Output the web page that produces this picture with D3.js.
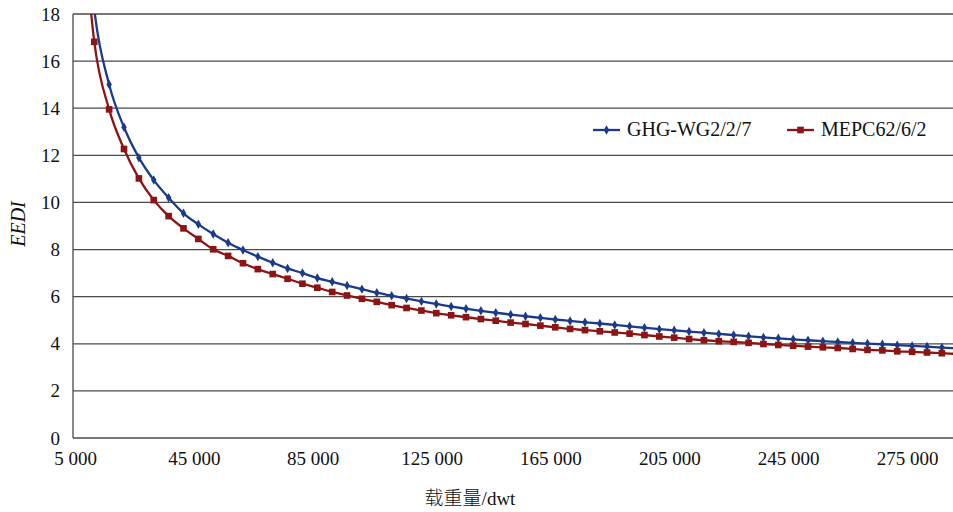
<!DOCTYPE html>
<html>
<head>
<meta charset="utf-8">
<script src="https://cdn.jsdelivr.net/npm/d3@7/dist/d3.min.js"></script>
<style>
  html, body { margin: 0; padding: 0; background: #fff; }
  svg { display: block; }
</style>
</head>
<body>
<svg id="chart" width="953" height="512"></svg>
<script>
// Deadweight categories (dwt), one point every 5 000 t
const dwt = d3.range(5000, 300001, 5000);

// EEDI reference lines for the two proposals
const ghgValues = [
  26.0, 18.2, 15.01, 13.19, 11.90, 10.95, 10.20, 9.54, 9.07, 8.66,
  8.29, 7.98, 7.70, 7.44, 7.20, 7.00, 6.79, 6.63, 6.47, 6.32,
  6.17, 6.04, 5.92, 5.80, 5.69, 5.58, 5.49, 5.40, 5.32, 5.24,
  5.17, 5.10, 5.03, 4.97, 4.91, 4.86, 4.80, 4.74, 4.68, 4.62,
  4.57, 4.52, 4.47, 4.42, 4.37, 4.32, 4.27, 4.23, 4.19, 4.15,
  4.11, 4.08, 4.04, 4.01, 3.98, 3.94, 3.91, 3.88, 3.84, 3.81
];
const mepcValues = [
  24.0, 16.82, 13.95, 12.27, 11.02, 10.10, 9.42, 8.90, 8.45, 8.01,
  7.73, 7.42, 7.17, 6.96, 6.76, 6.55, 6.38, 6.20, 6.05, 5.91,
  5.78, 5.64, 5.52, 5.41, 5.30, 5.21, 5.13, 5.05, 4.98, 4.90,
  4.84, 4.77, 4.70, 4.63, 4.58, 4.53, 4.48, 4.43, 4.37, 4.31,
  4.26, 4.20, 4.15, 4.11, 4.08, 4.04, 3.99, 3.95, 3.92, 3.88,
  3.85, 3.82, 3.78, 3.74, 3.72, 3.68, 3.66, 3.63, 3.60, 3.57
];

const seriesNames = ["GHG-WG2/2/7", "MEPC62/6/2"];
const xTickLabels = ["5 000", "45 000", "85 000", "125 000", "165 000", "205 000", "245 000", "275 000"];
const yTicks = [0, 2, 4, 6, 8, 10, 12, 14, 16, 18];

const series = [
  { name: seriesNames[0], values: ghgValues, color: "#1b3a8a", symbol: d3.symbolDiamond, size: 26 },
  { name: seriesNames[1], values: mepcValues, color: "#8c1414", symbol: d3.symbolSquare, size: 44 }
];

const serif = '"Liberation Serif"';
const cjk = '"Noto Sans CJK SC"';
const ink = "#111";

const svg = d3.select("#chart");
const plot = { left: 73, top: 14, right: 960, bottom: 438 };

const x = d3.scaleLinear()
  .domain([5000, 300000])
  .range([79.4, 79.4 + 59 * 14.87]);

const y = d3.scaleLinear()
  .domain([0, 18])
  .range([plot.bottom, plot.top]);

// Category-style label positions along the bottom
const xLabel = d3.scalePoint()
  .domain(xTickLabels)
  .range([75, 907]);

// Gridlines
svg.append("g")
  .selectAll("line")
  .data(yTicks)
  .join("line")
  .attr("x1", plot.left)
  .attr("x2", plot.right)
  .attr("y1", d => y(d))
  .attr("y2", d => y(d))
  .attr("stroke", "#4a4a4a")
  .attr("stroke-width", 1.3);

// Left axis line
svg.append("line")
  .attr("x1", plot.left).attr("x2", plot.left)
  .attr("y1", plot.top).attr("y2", plot.bottom)
  .attr("stroke", "#4a4a4a")
  .attr("stroke-width", 1.3);

// Y axis labels
const yAxis = svg.append("g")
  .attr("transform", `translate(${plot.left},0)`)
  .call(d3.axisLeft(y).tickValues(yTicks).tickSize(0).tickPadding(13).tickFormat(d3.format("d")));
yAxis.select(".domain").remove();
yAxis.attr("font-family", serif).attr("font-size", 19);
yAxis.selectAll("text").attr("fill", ink);

// X axis labels
const xAxis = svg.append("g")
  .attr("transform", `translate(0,${plot.bottom})`)
  .call(d3.axisBottom(xLabel).tickSize(0).tickPadding(14));
xAxis.select(".domain").remove();
xAxis.attr("font-family", serif).attr("font-size", 19);
xAxis.selectAll("text").attr("fill", ink);

// Axis titles
svg.append("text")
  .attr("transform", "translate(25,224) rotate(-90)")
  .attr("text-anchor", "middle")
  .attr("font-family", serif)
  .attr("font-size", 20)
  .attr("font-style", "italic")
  .attr("fill", ink)
  .text("EEDI");

const xTitle = svg.append("text")
  .attr("x", 470)
  .attr("y", 505)
  .attr("text-anchor", "middle")
  .attr("font-size", 19)
  .attr("fill", ink);
xTitle.append("tspan").attr("font-family", cjk).attr("font-weight", 300).text("载重量");
xTitle.append("tspan").attr("font-family", serif).text("/dwt");

// Clip the curves to the plotting area
svg.append("defs").append("clipPath")
  .attr("id", "plot-clip")
  .append("rect")
  .attr("x", plot.left)
  .attr("y", plot.top)
  .attr("width", plot.right - plot.left)
  .attr("height", plot.bottom - plot.top);

const line = d3.line()
  .x((d, i) => x(dwt[i]))
  .y(d => y(d))
  .curve(d3.curveMonotoneX);

const layer = svg.append("g").attr("clip-path", "url(#plot-clip)");

series.forEach(s => {
  const g = layer.append("g");
  g.append("path")
    .attr("d", line(s.values))
    .attr("fill", "none")
    .attr("stroke", s.color)
    .attr("stroke-width", 2.3);
  g.selectAll("path.marker")
    .data(s.values)
    .join("path")
    .attr("class", "marker")
    .attr("transform", (d, i) => `translate(${x(dwt[i])},${y(d)})`)
    .attr("d", d3.symbol().type(s.symbol).size(s.size))
    .attr("fill", s.color);
});

// Legend
const legendItems = [
  { s: series[0], x: 593, width: 27 },
  { s: series[1], x: 787, width: 27 }
];
const legendY = 130;
legendItems.forEach(item => {
  const g = svg.append("g");
  g.append("line")
    .attr("x1", item.x).attr("x2", item.x + item.width)
    .attr("y1", legendY).attr("y2", legendY)
    .attr("stroke", item.s.color)
    .attr("stroke-width", 2.3);
  g.append("path")
    .attr("transform", `translate(${item.x + item.width / 2},${legendY})`)
    .attr("d", d3.symbol().type(item.s.symbol).size(item.s.size))
    .attr("fill", item.s.color);
  g.append("text")
    .attr("x", item.x + item.width + 7)
    .attr("y", legendY + 6)
    .attr("font-family", serif)
    .attr("font-size", 20)
    .attr("fill", ink)
    .text(item.s.name);
});
</script>
</body>
</html>
